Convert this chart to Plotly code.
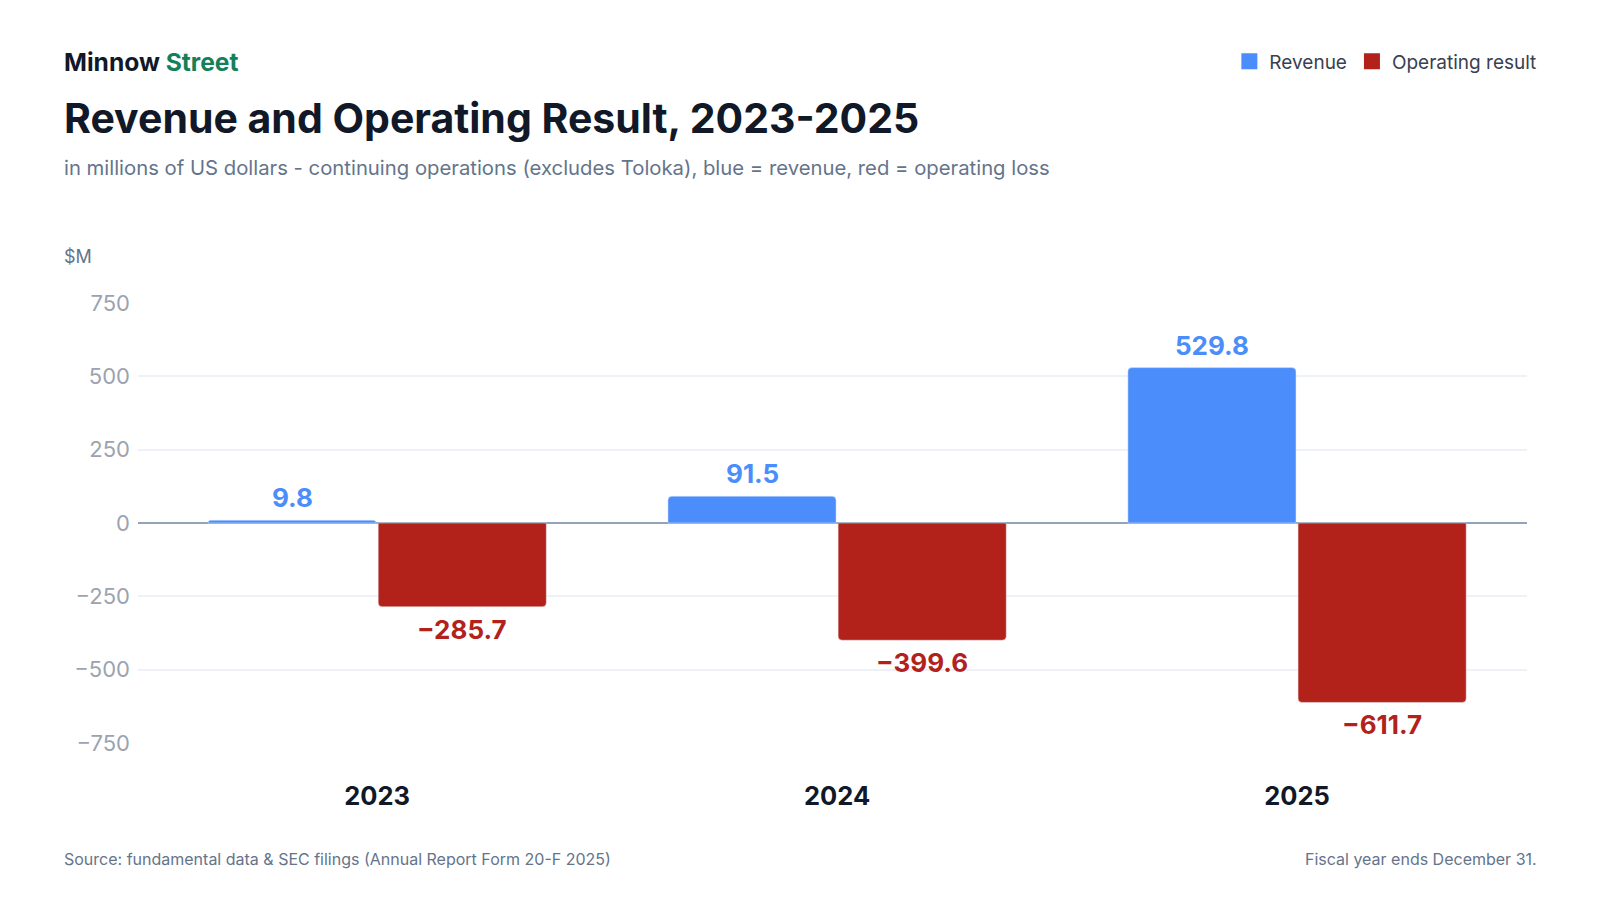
import plotly.graph_objects as go

# Données (millions USD)
years = ["2023", "2024", "2025"]
revenue = [9.8, 91.5, 529.8]
operating_result = [-285.7, -399.6, -611.7]
y_ticks = [750, 500, 250, 0, -250, -500, -750]

BLUE = "#4b8dfb"
RED = "#b2221a"
DARK = "#111827"
MUTED = "#64748b"
FONT = "Inter"

SCALE, PAGE_PAD = 0.979, 8
W, H = 1584, 884


def fx(x):
    return x / SCALE - PAGE_PAD


L = fx(135)
R = W - fx(1495)
T = fx(297)
B = H - fx(727)
PW, PH = W - L - R, H - T - B

X_RANGE = [-0.52, 2.5]
BARGAP = 0.26
BARGROUPGAP = 0.012

# décalage horizontal du centre de chaque barre dans son groupe
cat_px = PW / (X_RANGE[1] - X_RANGE[0])
slot_px = cat_px * (1 - BARGAP) / 2


def px_x(x):
    return (fx(x) - L) / PW


def px_y(y):
    return (H - B - fx(y)) / PH


def fmt(v):
    # signe moins typographique comme dans l'original
    return f"{v:,.1f}".replace("-", "\u2212")


fig = go.Figure()

fig.add_trace(go.Bar(
    x=years,
    y=revenue,
    name="Revenue",
    showlegend=False,
    marker=dict(color=BLUE, cornerradius=4),
))

fig.add_trace(go.Bar(
    x=years,
    y=operating_result,
    name="Operating result",
    showlegend=False,
    marker=dict(color=RED, cornerradius=4),
))

# entrées de légende avec de plus grands carrés
for name, color in [("Revenue", BLUE), ("Operating result", RED)]:
    fig.add_trace(go.Scatter(
        x=[None], y=[None], mode="markers", name=name,
        marker=dict(symbol="square", size=16, color=color),
    ))

# étiquettes de valeurs, un peu plus éloignées des barres que le "outside" par défaut
# (axe catégoriel : x = rang de la catégorie)
for values, color, side in [(revenue, BLUE, -1), (operating_result, RED, 1)]:
    for i, v in enumerate(values):
        fig.add_annotation(
            x=i, y=v, xref="x", yref="y",
            text=f"<b>{fmt(v)}</b>",
            showarrow=False,
            xshift=side * slot_px / 2,
            yanchor="bottom" if v >= 0 else "top",
            yshift=5 if v >= 0 else -5,
            font=dict(family=FONT, size=26, color=color),
        )

fig.update_layout(
    width=W,
    height=H,
    barmode="group",
    bargap=BARGAP,
    bargroupgap=BARGROUPGAP,
    plot_bgcolor="white",
    paper_bgcolor="white",
    font=dict(family=FONT, color=DARK),
    margin=dict(l=L, r=R, t=T, b=B),
    showlegend=True,
    legend=dict(
        orientation="h",
        xref="container", yref="container",
        x=fx(1509) / W, y=1 - fx(60) / H,
        xanchor="right", yanchor="middle",
        font=dict(family=FONT, size=19, color="#374151"),
        itemwidth=30,
        itemsizing="trace",
        traceorder="normal",
    ),
    xaxis=dict(
        type="category",
        range=X_RANGE,
        showgrid=False,
        showline=False,
        ticks="",
        tickfont=dict(family=FONT, size=25.5, color=DARK, weight="bold"),
        ticklabelstandoff=35,
        fixedrange=True,
    ),
    yaxis=dict(
        range=[-750, 750],
        tickvals=y_ticks,
        ticktext=[fmt(v).replace(".0", "") for v in y_ticks],
        tickfont=dict(family=FONT, size=22, color="#9ca3af"),
        gridcolor="#eef1f5",
        gridwidth=1.5,
        zeroline=True,
        zerolinecolor="#94a3b8",
        zerolinewidth=1.5,
        ticks="",
        ticklabelstandoff=7,
        showline=False,
    ),
)

# En-tête : marque, titre, sous-titre
fig.add_annotation(
    xref="paper", yref="paper", x=px_x(61), y=px_y(61),
    xanchor="left", yanchor="middle", showarrow=False,
    text="<b>Minnow <span style='color:#14805a'>Street</span></b>",
    font=dict(family=FONT, size=24.6, color=DARK),
)
fig.add_annotation(
    xref="paper", yref="paper", x=px_x(61), y=px_y(116),
    xanchor="left", yanchor="middle", showarrow=False,
    text="<b>Revenue and Operating Result, 2023-2025</b>",
    font=dict(family=FONT, size=41, color=DARK),
)
fig.add_annotation(
    xref="paper", yref="paper", x=px_x(61), y=px_y(165),
    xanchor="left", yanchor="middle", showarrow=False,
    text="in millions of US dollars - continuing operations (excludes Toloka), blue = revenue, red = operating loss",
    font=dict(family=FONT, size=20.3, color=MUTED),
)
fig.add_annotation(
    xref="paper", yref="paper", x=px_x(61), y=px_y(252),
    xanchor="left", yanchor="middle", showarrow=False,
    text="$M",
    font=dict(family=FONT, size=18, color=MUTED),
)

# Pied de page
fig.add_annotation(
    xref="paper", yref="paper", x=px_x(61), y=px_y(840),
    xanchor="left", yanchor="middle", showarrow=False,
    text="Source: fundamental data & SEC filings (Annual Report Form 20-F 2025)",
    font=dict(family=FONT, size=16, color=MUTED),
)
fig.add_annotation(
    xref="paper", yref="paper", x=px_x(1507), y=px_y(840),
    xanchor="right", yanchor="middle", showarrow=False,
    text="Fiscal year ends December 31.",
    font=dict(family=FONT, size=16, color=MUTED),
)

fig.write_html("out.html")
